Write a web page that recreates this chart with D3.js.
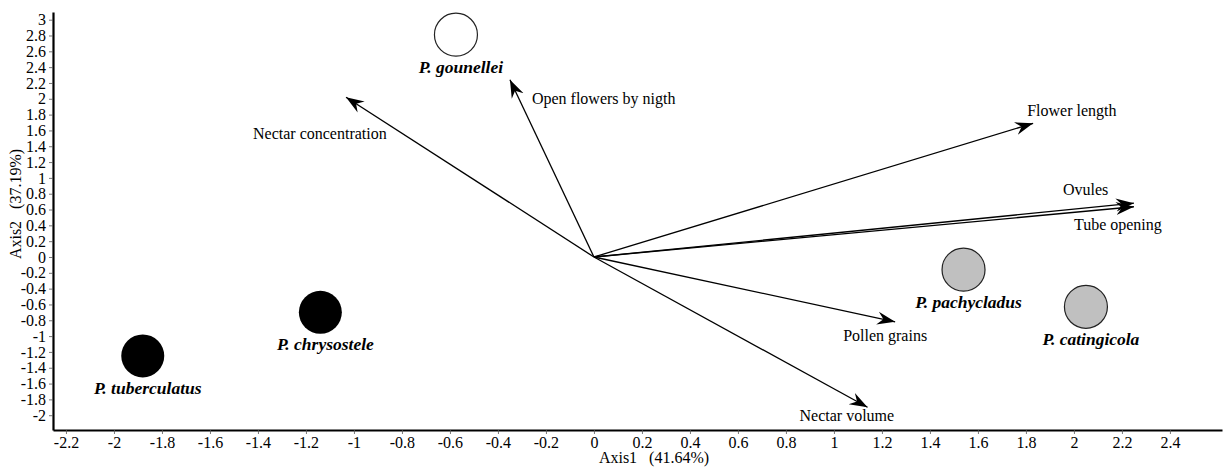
<!DOCTYPE html>
<html><head><meta charset="utf-8">
<script src="https://cdn.jsdelivr.net/npm/d3@7"></script>
<style>body{margin:0;background:#fff}svg{display:block}
svg text{font-family:"Liberation Serif","Times New Roman","DejaVu Serif",serif !important;fill:#000}
</style>
</head><body><svg id="c" width="1224" height="468"></svg>
<script>
// ---- data ----
const species = ["P. gounellei","P. tuberculatus","P. chrysostele","P. pachycladus","P. catingicola"];
const speciesX = [-0.575,-1.88,-1.14,1.54,2.05];
const speciesY = [2.81,-1.25,-0.70,-0.16,-0.63];
const speciesGroup = ["open","black","black","grey","grey"];

const vectors = ["Nectar concentration","Open flowers by nigth","Flower length","Ovules","Tube opening","Pollen grains","Nectar volume"];
const vectorX = [-1.033,-0.35,1.83,2.25,2.25,1.255,1.14];
const vectorY = [2.02,2.24,1.69,0.68,0.635,-0.82,-1.90];

const xTicks = [-2.2,-2,-1.8,-1.6,-1.4,-1.2,-1,-0.8,-0.6,-0.4,-0.2,0,0.2,0.4,0.6,0.8,1,1.2,1.4,1.6,1.8,2,2.2,2.4];
const yTicks = [-2,-1.8,-1.6,-1.4,-1.2,-1,-0.8,-0.6,-0.4,-0.2,0,0.2,0.4,0.6,0.8,1,1.2,1.4,1.6,1.8,2,2.2,2.4,2.6,2.8,3];
const xTitle = "Axis1   (41.64%)";
const yTitle = "Axis2   (37.19%)";

// ---- layout / style ----
const vectorLabelOffset = [[-93,42],[22,24],[-6,-7],[-71,-8],[-60,23],[-52,19],[-68,14]];
const fills = {open:"#ffffff", black:"#000000", grey:"#c0c0c0"};

const svg = d3.select("#c");
const x = d3.scaleLinear().domain([-2.254,2.617]).range([53,1222]);
const y = d3.scaleLinear().domain([-2.187,3.097]).range([430,12]);

// axes
const fmt = d => String(d);
const gx = svg.append("g").attr("transform","translate(0,430)")
  .call(d3.axisBottom(x).tickValues(xTicks).tickFormat(fmt).tickSize(4).tickSizeOuter(0));
const gy = svg.append("g").attr("transform","translate(53,0)")
  .call(d3.axisLeft(y).tickValues(yTicks).tickFormat(fmt).tickSize(4).tickSizeOuter(0));
[gx,gy].forEach(g=>{
  g.attr("font-family",null);
  g.select(".domain").attr("stroke","#000").attr("stroke-width",2.2);
  g.selectAll(".tick line").attr("stroke","#555").attr("stroke-width",0.8);
  g.selectAll(".tick text").attr("font-size",16).attr("fill","#000");
});

svg.append("text").attr("x",654).attr("y",463).attr("text-anchor","middle")
  .attr("font-size",16).attr("xml:space","preserve").text(xTitle);
svg.append("text").attr("transform","translate(21,204) rotate(-90)").attr("text-anchor","middle")
  .attr("font-size",16).attr("xml:space","preserve").text(yTitle);

// arrow marker
svg.append("defs").append("marker").attr("id","ah")
  .attr("markerUnits","userSpaceOnUse").attr("viewBox","-18 -8 20 16")
  .attr("refX",0).attr("refY",0).attr("markerWidth",20).attr("markerHeight",16)
  .attr("orient","auto")
  .append("path").attr("d","M0,0 L-18,-6.5 L-12,0 L-18,6.5 Z").attr("fill","#000");

const vdata = vectors.map((n,i)=>({n, vx:vectorX[i], vy:vectorY[i], off:vectorLabelOffset[i]}));
svg.selectAll("line.vec").data(vdata).join("line").attr("class","vec")
  .attr("x1",x(0)).attr("y1",y(0)).attr("x2",d=>x(d.vx)).attr("y2",d=>y(d.vy))
  .attr("stroke","#000").attr("stroke-width",1.3).attr("marker-end","url(#ah)");
svg.selectAll("text.vlab").data(vdata).join("text").attr("class","vlab")
  .attr("x",d=>x(d.vx)+d.off[0]).attr("y",d=>y(d.vy)+d.off[1])
  .attr("font-size",16).text(d=>d.n);

// species points
const sdata = species.map((n,i)=>({n, sx:speciesX[i], sy:speciesY[i], g:speciesGroup[i]}));
svg.selectAll("circle.sp").data(sdata).join("circle").attr("class","sp")
  .attr("cx",d=>x(d.sx)).attr("cy",d=>y(d.sy)).attr("r",21.5)
  .attr("fill",d=>fills[d.g]).attr("stroke",d=>d.g==="black"?"none":"#222").attr("stroke-width",1.2);
svg.selectAll("text.slab").data(sdata).join("text").attr("class","slab")
  .attr("x",d=>x(d.sx)+5).attr("y",d=>y(d.sy)+38).attr("text-anchor","middle")
  .attr("font-size",17.5).attr("font-weight","bold").attr("font-style","italic")
  .text(d=>d.n);
</script></body></html>
